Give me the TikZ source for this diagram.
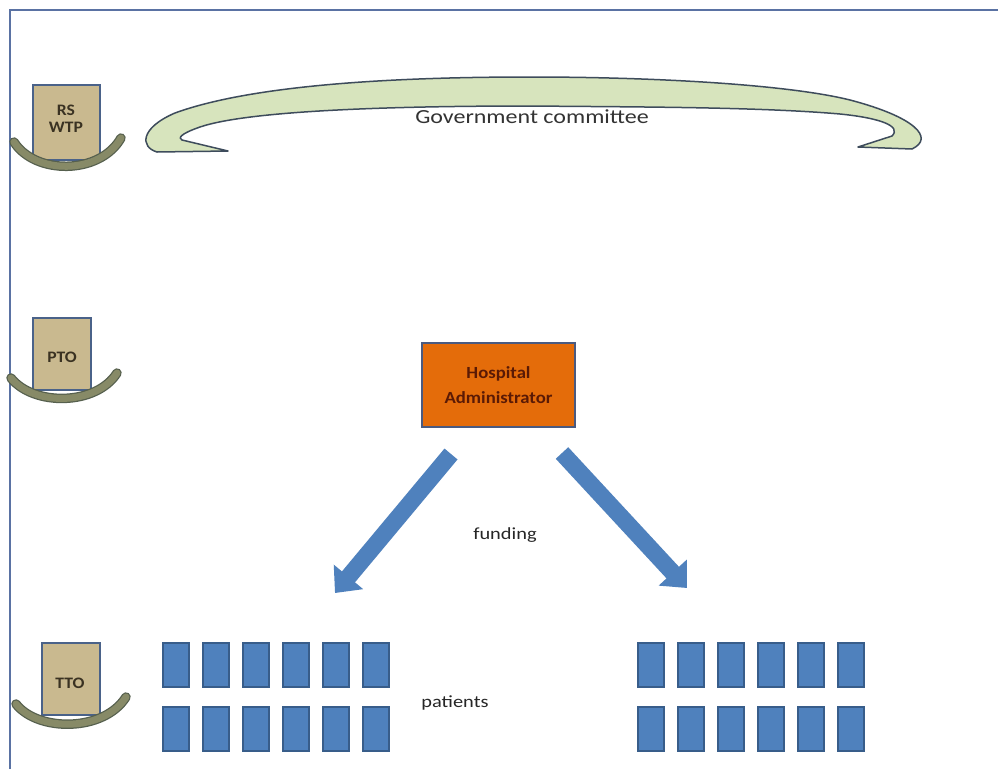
\documentclass[tikz,border=0pt]{standalone}
\usepackage{fontspec}
\setmainfont{Carlito}
\usetikzlibrary{arrows.meta}
\definecolor{framecol}{HTML}{5A72A3}
\definecolor{tanfill}{HTML}{C9B98F}
\definecolor{tanborder}{HTML}{4A6289}
\definecolor{arcfill}{HTML}{878A67}
\definecolor{arcline}{HTML}{56604E}
\definecolor{bandfill}{HTML}{D7E4BD}
\definecolor{bandline}{HTML}{3E4C5C}
\definecolor{orangefill}{HTML}{E46C0A}
\definecolor{orangeline}{HTML}{4A5A80}
\definecolor{hosptext}{HTML}{5A1A05}
\definecolor{bluefill}{HTML}{4F81BD}
\definecolor{blueline}{HTML}{385D8A}
\definecolor{textdark}{HTML}{3A3222}
\newcommand{\widetxt}[1]{\scalebox{1.2}[1]{#1}}
\newcommand{\semiwide}[1]{\scalebox{1.1}[1]{#1}}
\begin{document}
\begin{tikzpicture}[x=1pt,y=-1pt,
  tanbox/.style={draw=tanborder, fill=tanfill, line width=1.4pt, inner sep=0pt},
  tantext/.style={text=textdark, font=\bfseries\fontsize{16}{18}\selectfont, inner sep=0pt},
  arcband/.style={draw=arcfill, line width=7pt, line cap=round,
     preaction={draw=arcline, line width=9.5pt, line cap=round}},
  hospbox/.style={draw=orangeline, fill=orangefill, line width=1.4pt, inner sep=0pt,
     minimum width=153pt, minimum height=84pt, align=center, text=hosptext,
     font=\bfseries\fontsize{17}{25}\selectfont},
  patient/.style={draw=blueline, fill=bluefill, line width=1.2pt, inner sep=0pt,
     minimum width=26pt, minimum height=44pt},
  fundarrow/.style={draw=bluefill, line width=17pt, -{Triangle[width=37pt,length=21pt]}},
  plain/.style={text=black!85, inner sep=0pt},
  band/.style={draw=bandline, fill=bandfill, line width=1.5pt, line join=round}]
\useasboundingbox (0,0) rectangle (998,769);
\fill[white] (0,0) rectangle (998,769);
% frame
\draw[framecol, line width=2pt] (10,769) -- (10,10) -- (998,10);

% government committee band
\draw[band] (157,152) .. controls (140,147) and (140,128) .. (175,113)
  .. controls (260,82) and (420,77) .. (530,77)
  .. controls (660,77) and (790,85) .. (850,100)
  .. controls (915,117) and (935,138) .. (912,149)
  -- (858,147) -- (892,136)
  .. controls (902,126) and (880,118) .. (840,114)
  .. controls (760,107) and (640,107) .. (530,106)
  .. controls (400,106) and (250,110) .. (200,127)
  .. controls (180,134) and (178,138) .. (182,140)
  -- (228,151) -- cycle;
\node[plain, font=\fontsize{20}{22}\selectfont, text=black!80] (gov) at (532,117) {\widetxt{Government committee}};

% level boxes
\node[tanbox, minimum width=67pt, minimum height=75pt] (rs) at (66.5,122.5) {};
\node[tantext, align=center] (rstxt) at (66,119) {\semiwide{\shortstack{RS\\[4pt]WTP}}};
\draw[arcband] (14,142) .. controls (35,175) and (100,175) .. (121,138);

\node[tanbox, minimum width=58pt, minimum height=72pt] (pto) at (62,354) {};
\node[tantext] (ptotxt) at (62,357) {\semiwide{PTO}};
\draw[arcband] (11,378) .. controls (33,406) and (96,406) .. (117,373);

\node[tanbox, minimum width=58pt, minimum height=72pt] (tto) at (71,679) {};
\node[tantext] (ttotxt) at (70,683) {\semiwide{TTO}};
\draw[arcband] (16,704) .. controls (38,732) and (104,732) .. (126,697);

% hospital administrator
\node[hospbox] (hosp) at (498.5,385) {\semiwide{Hospital}\\\semiwide{Administrator}};

% funding arrows
\coordinate (las) at (451,454);
\coordinate (lae) at (335,593);
\coordinate (ras) at (562,453);
\coordinate (rae) at (687,588);
\draw[fundarrow] (las) -- (lae);
\draw[fundarrow] (ras) -- (rae);
\node[plain, font=\fontsize{17}{19}\selectfont] (funding) at (505,535) {\widetxt{funding}};

% patients
\foreach \i in {0,...,5} {
  \node[patient] (pl1\i) at (176+40*\i,665) {};
  \node[patient] (pl2\i) at (176+40*\i,729) {};
  \node[patient] (pr1\i) at (651+40*\i,665) {};
  \node[patient] (pr2\i) at (651+40*\i,729) {};
}
\node[plain, font=\fontsize{17}{19}\selectfont] (patients) at (455,703) {\widetxt{patients}};
\end{tikzpicture}
\end{document}
